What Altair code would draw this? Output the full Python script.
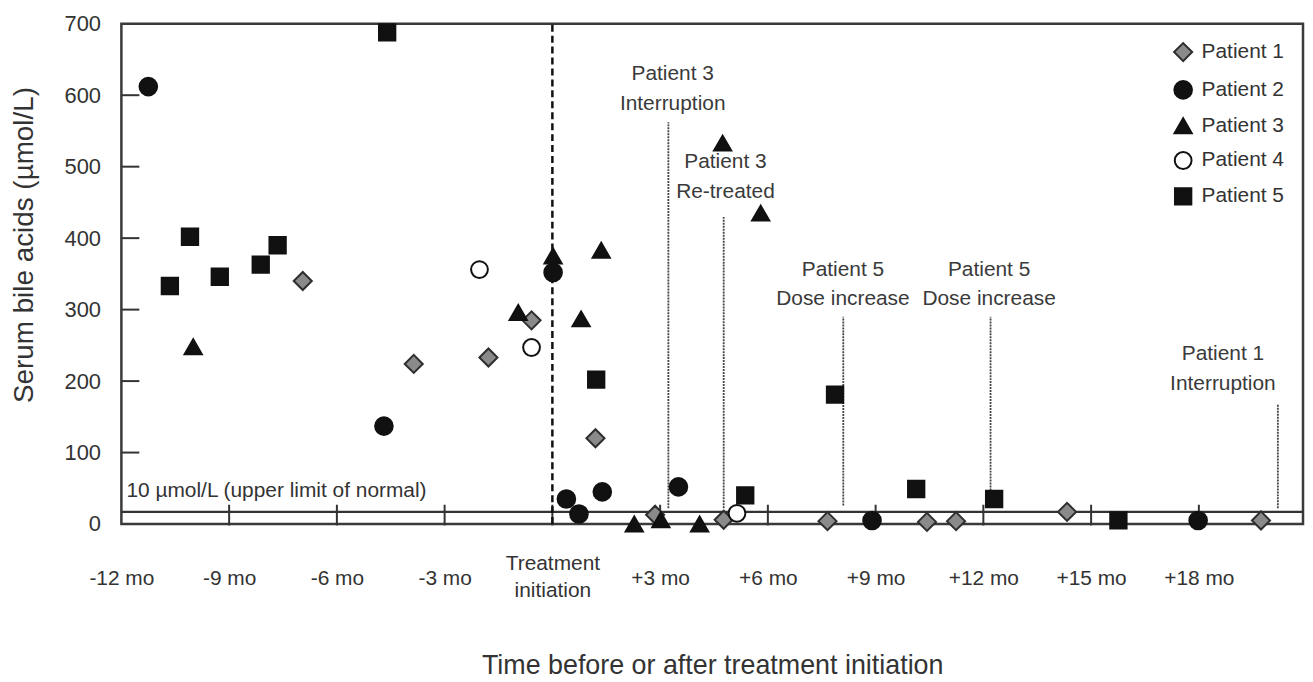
import altair as alt
import pandas as pd

FONT = "Liberation Sans, Arial, sans-serif"
TXT = "#333333"

# ---- data (months relative to treatment initiation, µmol/L)
patients = ["Patient 1", "Patient 2", "Patient 3", "Patient 4", "Patient 5"]

p1_t = [-6.95, -3.86, -1.78, -0.58, 1.2, 2.86, 4.77, 7.66, 10.43, 11.24, 14.33, 19.73]
p1_v = [340, 224, 233, 285, 120, 13, 6, 4, 3, 4, 17, 5]

p2_t = [-11.25, -4.69, 0.02, 0.39, 0.74, 1.39, 3.51, 8.9, 17.98]
p2_v = [612, 137, 352, 35, 14, 45, 52, 5, 5]

p3_t = [-10.0, -0.95, 0.02, 0.8, 1.36, 2.28, 3.02, 4.1, 4.74, 5.8]
p3_v = [248, 296, 375, 287, 383, 0, 6, 0, 533, 435]

p4_t = [-2.03, -0.58, 5.14]
p4_v = [356, 247, 15]

p5_t = [-10.65, -10.09, -9.26, -8.12, -7.65, -4.6, 1.22, 5.37, 7.87, 10.13, 12.3, 15.76]
p5_v = [333, 402, 346, 363, 390, 688, 202, 40, 181, 49, 35, 5]

shapes = ["diamond", "circle", "triangle-up", "circle", "square"]
fills = ["#8a8a8a", "#111111", "#111111", "#ffffff", "#111111"]
strokes = ["#2e2e2e", "#111111", "#111111", "#111111", "#111111"]
sizes = [330, 270, 270, 220, 290]

x_ticks = [-12, -9, -6, -3, 0, 3, 6, 9, 12, 15, 18]
x_labels = ["-12 mo", "-9 mo", "-6 mo", "-3 mo", "Treatment\ninitiation",
            "+3 mo", "+6 mo", "+9 mo", "+12 mo", "+15 mo", "+18 mo"]
y_ticks = [0, 100, 200, 300, 400, 500, 600, 700]
inner_y_ticks = [100, 200, 300, 400, 500, 600]
inner_x_ticks = [-9, -6, -3, 0, 3, 6, 9, 12, 15, 18]

uln_value = 17
uln_label = "10 µmol/L (upper limit of normal)"

ann_line_t = [3.23, 4.77, 8.1, 12.2, 20.2]
ann_line_top = [562, 430, 290, 290, 168]
ann_line_bottom = [22, 22, 26, 26, 22]
ann_text = ["Patient 3\nInterruption", "Patient 3\nRe-treated", "Patient 5\nDose increase",
            "Patient 5\nDose increase", "Patient 1\nInterruption"]
ann_text_t = [3.35, 4.82, 8.09, 12.16, 18.67]
ann_text_v = [630, 506, 356, 356, 238]

X_DOMAIN = [-12, 20.9]
Y_DOMAIN = [0, 700]

# ---- tables
rows = []
for name, ts, vs in zip(patients, [p1_t, p2_t, p3_t, p4_t, p5_t], [p1_v, p2_v, p3_v, p4_v, p5_v]):
    for t, v in zip(ts, vs):
        rows.append({"t": t, "v": v, "patient": name})
pts = pd.DataFrame(rows)


def lab_expr():
    expr = "''"
    for val, lab in reversed(list(zip(x_ticks, x_labels))):
        if "\n" in lab:
            parts = lab.split("\n")
            s = "[" + ",".join("'" + p + "'" for p in parts) + "]"
        else:
            s = "'" + lab + "'"
        expr = f"datum.value == {val} ? {s} : ({expr})"
    return expr


xs = alt.Scale(domain=X_DOMAIN, nice=False, zero=False)
ys = alt.Scale(domain=Y_DOMAIN, nice=False, zero=False)

x_axis = alt.Axis(values=x_ticks, labelExpr=lab_expr(), title="Time before or after treatment initiation",
                  labelBaseline="middle",
                  labelPadding={"condition": {"test": "datum.value == 0", "value": 40}, "value": 55},
                  labelLineHeight=27, labelFontSize=21,
                  labelFont=FONT, labelColor=TXT, titleFont=FONT, titleFontSize=27, titleColor=TXT,
                  titleFontWeight="normal", titlePadding=52, ticks=False, tickSize=0, domain=False,
                  grid=False, labelFlush=False, labelOverlap=False)
y_axis = alt.Axis(values=y_ticks, title="Serum bile acids (µmol/L)", labelPadding=21, labelFontSize=22,
                  labelFont=FONT, labelColor=TXT, titleFont=FONT, titleFontSize=28, titleColor=TXT,
                  titleFontWeight="normal", titlePadding=26, titleY=222, ticks=False, tickSize=0,
                  domain=False, grid=False, labelFlush=False, labelOverlap=False)

X = alt.X("t:Q", scale=xs, axis=x_axis)
Y = alt.Y("v:Q", scale=ys, axis=y_axis)

# upper limit of normal line
uln_df = pd.DataFrame({"t": [X_DOMAIN[0]], "t2": [X_DOMAIN[1]], "v": [uln_value]})
uln = alt.Chart(uln_df).mark_rule(color="#333333", strokeWidth=2.5).encode(x=X, x2="t2:Q", y=Y)

uln_txt_df = pd.DataFrame({"t": [-11.86], "v": [46], "label": [uln_label]})
uln_txt = alt.Chart(uln_txt_df).mark_text(align="left", baseline="middle", font=FONT, fontSize=21,
                                          color=TXT).encode(x=X, y=Y, text="label:N")

# treatment initiation dashed line
tr_df = pd.DataFrame({"t": [0], "v": [Y_DOMAIN[0]], "v2": [Y_DOMAIN[1]]})
tr = alt.Chart(tr_df).mark_rule(color="#111111", strokeWidth=2.5, strokeDash=[7, 4]).encode(
    x=X, y=Y, y2="v2:Q")

# inner tick marks
xt_df = pd.DataFrame({"t": inner_x_ticks, "v": [-2] * len(inner_x_ticks), "v2": [27] * len(inner_x_ticks)})
xt = alt.Chart(xt_df).mark_rule(color="#333333", strokeWidth=2).encode(x=X, y=Y, y2="v2:Q")
yt_df = pd.DataFrame({"t": [X_DOMAIN[0]] * len(inner_y_ticks), "t2": [X_DOMAIN[0] + 0.5] * len(inner_y_ticks),
                      "v": inner_y_ticks})
yt = alt.Chart(yt_df).mark_rule(color="#333333", strokeWidth=2).encode(x=X, x2="t2:Q", y=Y)

# annotation lines and labels
al_df = pd.DataFrame({"t": ann_line_t, "v": ann_line_bottom, "v2": ann_line_top})
al = alt.Chart(al_df).mark_rule(color="#444444", strokeWidth=1.8, strokeDash=[2, 1]).encode(
    x=X, y=Y, y2="v2:Q")
at_df = pd.DataFrame({"t": ann_text_t, "v": ann_text_v, "label": ann_text})
at = alt.Chart(at_df).mark_text(align="center", baseline="middle", lineBreak="\n", lineHeight=30,
                                font=FONT, fontSize=21, color="#3a3a3a").encode(x=X, y=Y, text="label:N")

# points
leg = alt.Legend(title=None, orient="none", legendX=1057, legendY=18, labelFont=FONT, labelFontSize=21,
                 labelColor=TXT, symbolStrokeWidth=2, rowPadding=11, labelOffset=8,
                 padding=0)
points = alt.Chart(pts).mark_point(filled=True, strokeWidth=2, opacity=1).encode(
    x=X, y=Y,
    shape=alt.Shape("patient:N", scale=alt.Scale(domain=patients, range=shapes), legend=leg),
    fill=alt.Fill("patient:N", scale=alt.Scale(domain=patients, range=fills), legend=leg),
    stroke=alt.Stroke("patient:N", scale=alt.Scale(domain=patients, range=strokes), legend=leg),
    size=alt.Size("patient:N", scale=alt.Scale(domain=patients, range=sizes), legend=leg),
)

chart = alt.layer(uln, xt, yt, tr, al, at, uln_txt, points).properties(
    width=1188, height=503, background="white",
    padding={"left": 2, "top": 3, "right": 0, "bottom": 0},
).configure_view(stroke="#3a3a3a", strokeWidth=2.5)

chart.save("out.html", embed_options={"renderer": "svg", "actions": False})
